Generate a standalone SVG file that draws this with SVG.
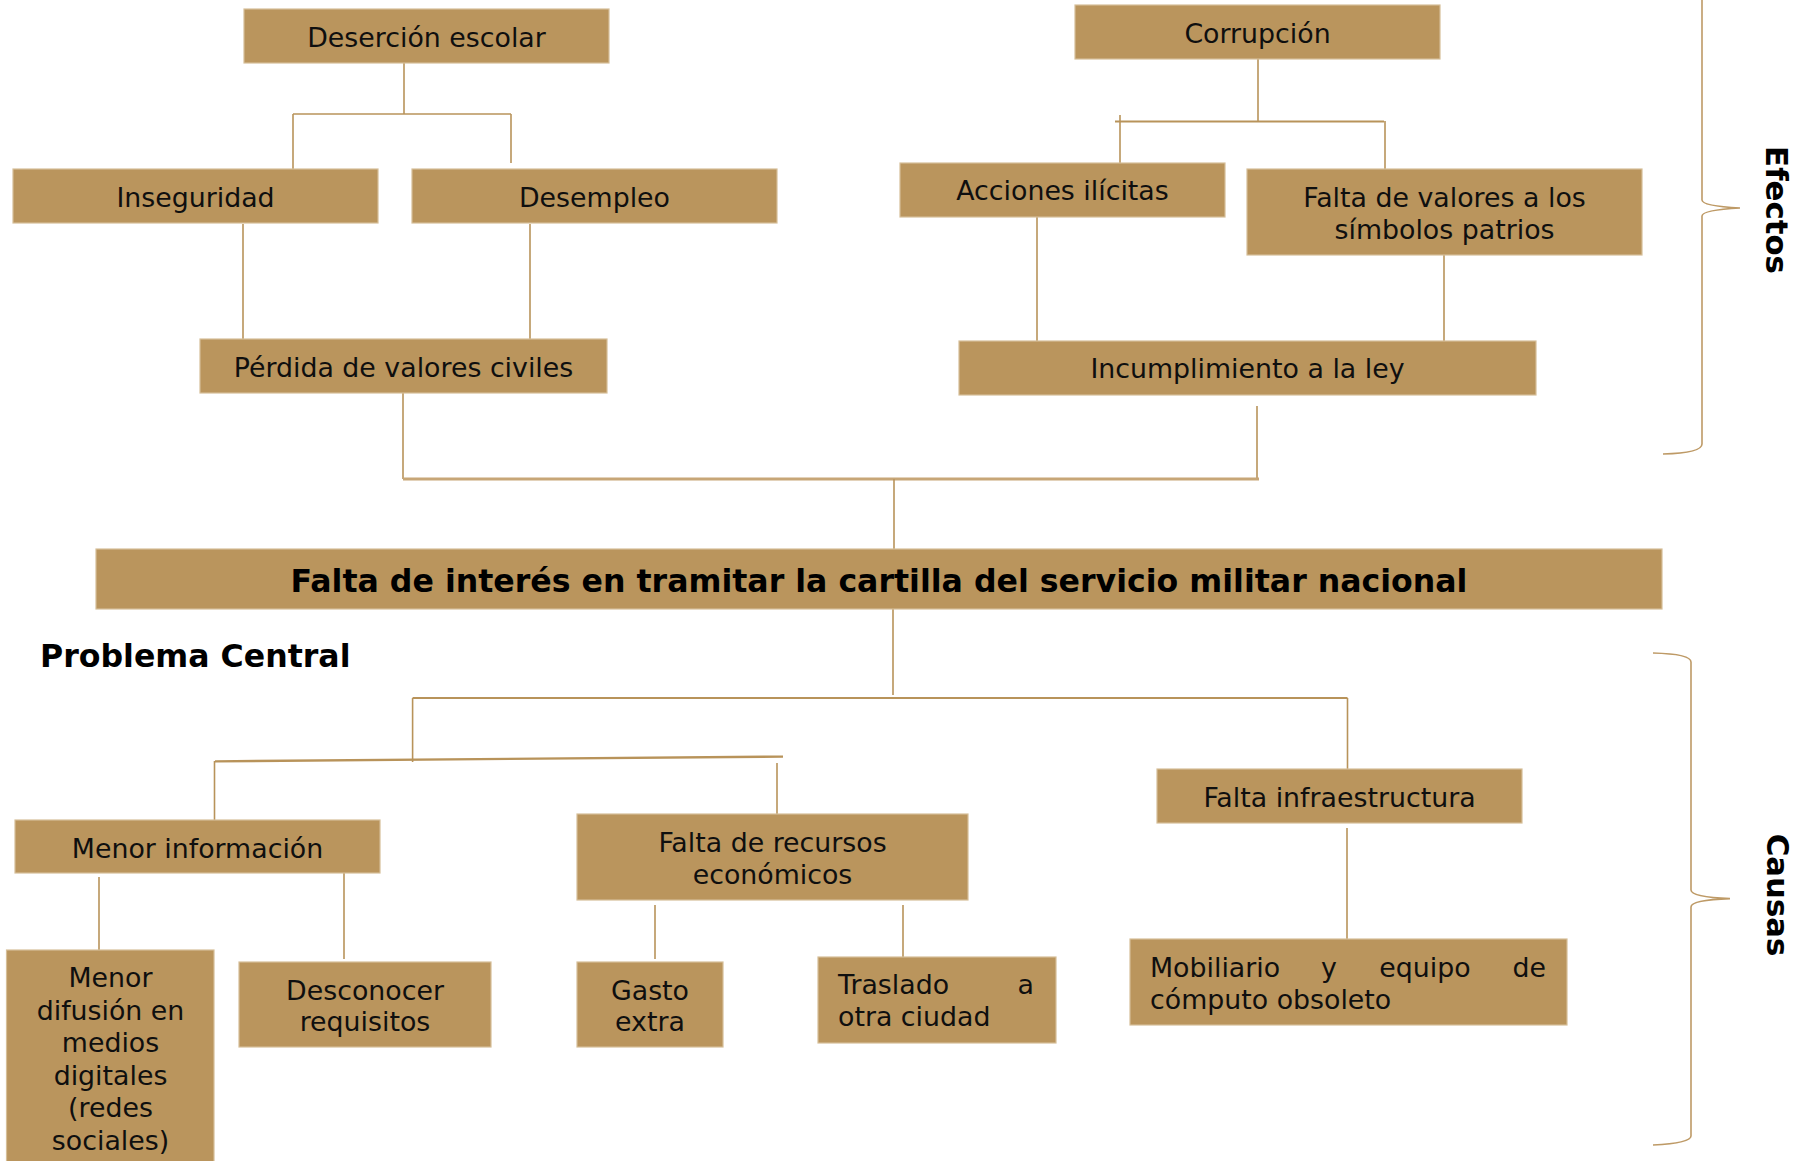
<svg xmlns="http://www.w3.org/2000/svg" width="1807" height="1161" viewBox="0 0 1807 1161">
<style>
.box{fill:#BA955D;stroke:#D6BE98;stroke-width:1.2}
.t{font-family:"DejaVu Sans","Verdana",sans-serif;font-size:26.8px;fill:#0f0f0f}
.c{text-anchor:middle}
.e{text-anchor:end}
.b{font-family:"DejaVu Sans","Verdana",sans-serif;font-weight:bold;fill:#000}
.ln{stroke:#B8935A;stroke-width:1.6;fill:none}
.br{stroke:#BE9A66;stroke-width:1.6;fill:none}
</style>
<rect width="1807" height="1161" fill="#ffffff"/>
<g id="connectors">
<line class="ln" x1="404" y1="63" x2="404" y2="114"/>
<line class="ln" x1="293" y1="114" x2="511" y2="114"/>
<line class="ln" x1="293" y1="114" x2="293" y2="169"/>
<line class="ln" x1="511" y1="114" x2="511" y2="163"/>
<line class="ln" x1="243" y1="224" x2="243" y2="339"/>
<line class="ln" x1="530" y1="224" x2="530" y2="339"/>
<line class="ln" x1="403" y1="393" x2="403" y2="479"/>
<line class="ln" x1="1258" y1="59" x2="1258" y2="121"/>
<line class="ln" x1="1115" y1="121.5" x2="1384" y2="121.5" style="stroke-width:2.2"/>
<line class="ln" x1="1120" y1="115" x2="1120" y2="163"/>
<line class="ln" x1="1385" y1="121" x2="1385" y2="169"/>
<line class="ln" x1="1037" y1="217" x2="1037" y2="341"/>
<line class="ln" x1="1444" y1="255" x2="1444" y2="341"/>
<line class="ln" x1="1257" y1="406" x2="1257" y2="479"/>
<line class="ln" x1="403" y1="479" x2="1259" y2="479" style="stroke-width:3;stroke:#C7A677"/>
<line class="ln" x1="894" y1="479" x2="894" y2="549"/>
<line class="ln" x1="893" y1="609" x2="893" y2="695"/>
<line class="ln" x1="412.6" y1="698" x2="1347.5" y2="698" style="stroke-width:2"/>
<line class="ln" x1="412.6" y1="698" x2="412.6" y2="762"/>
<line class="ln" x1="1347.5" y1="698" x2="1347.5" y2="769"/>
<line class="ln" x1="215" y1="761.4" x2="783" y2="756.6" style="stroke-width:2.4"/>
<line class="ln" x1="214.5" y1="761" x2="214.5" y2="820"/>
<line class="ln" x1="777" y1="763" x2="777" y2="814"/>
<line class="ln" x1="99" y1="877" x2="99" y2="950"/>
<line class="ln" x1="344" y1="873" x2="344" y2="959"/>
<line class="ln" x1="655" y1="905" x2="655" y2="959"/>
<line class="ln" x1="903" y1="905" x2="903" y2="957"/>
<line class="ln" x1="1347" y1="828" x2="1347" y2="939"/>
<path class="br" d="M1702,0 L1702,200 Q1702,206 1740,208 Q1702,210 1702,216 L1702,444 Q1702,453 1663,454"/>
<path class="br" d="M1653,653 Q1691,654 1691,662 L1691,890 Q1691,897 1730,898.6 Q1691,900 1691,907 L1691,1136 Q1691,1143 1653,1145"/>
</g>
<g id="desercion"><rect class="box" x="244" y="9" width="365" height="54"/><text class="t c" x="426.5" y="46.7">Deserción escolar</text></g>
<g id="inseguridad"><rect class="box" x="13" y="169" width="365" height="54"/><text class="t c" x="195.5" y="206.7">Inseguridad</text></g>
<g id="desempleo"><rect class="box" x="412" y="169" width="365" height="54"/><text class="t c" x="594.5" y="206.7">Desempleo</text></g>
<g id="perdida"><rect class="box" x="200" y="339" width="407" height="54"/><text class="t c" x="403.5" y="376.7">Pérdida de valores civiles</text></g>
<g id="corrupcion"><rect class="box" x="1075" y="5" width="365" height="54"/><text class="t c" x="1257.5" y="42.7">Corrupción</text></g>
<g id="acciones"><rect class="box" x="900" y="163" width="325" height="54"/><text class="t c" x="1062.5" y="200">Acciones ilícitas</text></g>
<g id="faltavalores"><rect class="box" x="1247" y="169" width="395" height="86"/><text class="t c" x="1444.5" y="206.7">Falta de valores a los</text><text class="t c" x="1444.5" y="238.5">símbolos patrios</text></g>
<g id="incumplimiento"><rect class="box" x="959" y="341" width="577" height="54"/><text class="t c" x="1247.5" y="378.3">Incumplimiento a la ley</text></g>
<g id="central"><rect class="box" x="96" y="549" width="1566" height="60"/><text class="b c" x="879" y="592" font-size="31.6">Falta de interés en tramitar la cartilla del servicio militar nacional</text></g>
<g id="problema"><text class="b" x="40" y="666.8" font-size="31.6">Problema Central</text></g>
<g id="efectos"><text class="b c" font-size="30.8" transform="translate(1766,210) rotate(90)">Efectos</text></g>
<g id="causas"><text class="b c" font-size="30.8" transform="translate(1767,895) rotate(90)">Causas</text></g>
<g id="menorinfo"><rect class="box" x="15" y="820" width="365" height="53"/><text class="t c" x="197.5" y="858">Menor información</text></g>
<g id="recursos"><rect class="box" x="577" y="814" width="391" height="86"/><text class="t c" x="772.5" y="852">Falta de recursos</text><text class="t c" x="772.5" y="884">económicos</text></g>
<g id="infraestructura"><rect class="box" x="1157" y="769" width="365" height="54"/><text class="t c" x="1339.5" y="807">Falta infraestructura</text></g>
<g id="difusion"><rect class="box" x="6.5" y="950" width="207.5" height="220"/>
<text class="t c" x="110.5" y="986.7">Menor</text>
<text class="t c" x="110.5" y="1019.5">difusión en</text>
<text class="t c" x="110.5" y="1052">medios</text>
<text class="t c" x="110.5" y="1084.5">digitales</text>
<text class="t c" x="110.5" y="1117">(redes</text>
<text class="t c" x="110.5" y="1149.5">sociales)</text></g>
<g id="desconocer"><rect class="box" x="239" y="962" width="252" height="85"/><text class="t c" x="365" y="1000">Desconocer</text><text class="t c" x="365" y="1031">requisitos</text></g>
<g id="gasto"><rect class="box" x="577" y="962" width="146" height="85"/><text class="t c" x="650" y="1000">Gasto</text><text class="t c" x="650" y="1031">extra</text></g>
<g id="traslado"><rect class="box" x="818" y="957" width="238" height="86"/><text class="t" x="838" y="994">Traslado</text><text class="t e" x="1034" y="994">a</text><text class="t" x="838" y="1026">otra ciudad</text></g>
<g id="mobiliario"><rect class="box" x="1130" y="939" width="437" height="86"/><text class="t" x="1150" y="976.7">Mobiliario</text><text class="t c" x="1329" y="976.7">y</text><text class="t c" x="1425" y="976.7">equipo</text><text class="t e" x="1546" y="976.7">de</text><text class="t" x="1150" y="1009">cómputo obsoleto</text></g>
</svg>
